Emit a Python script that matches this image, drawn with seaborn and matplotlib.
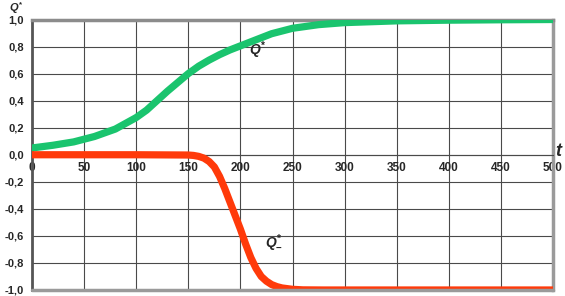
import matplotlib
matplotlib.use('Agg')
import matplotlib.pyplot as plt
import seaborn as sns

# Q* (green)
t_plus = [0, 20, 40, 60, 80, 100, 110, 120, 130, 140, 150, 160, 170, 180, 190, 200,
          215, 230, 250, 275, 300, 350, 400, 450, 500]
q_plus = [0.05, 0.07, 0.095, 0.135, 0.19, 0.275, 0.33, 0.40, 0.47, 0.535, 0.60, 0.655, 0.70, 0.74, 0.775, 0.805,
          0.85, 0.895, 0.935, 0.962, 0.977, 0.99, 0.995, 0.998, 1.0]

# Q*_ (red)
t_minus = [0, 100, 150, 155, 160, 165, 170, 175, 180, 185, 190, 195, 200, 205, 210, 215,
           220, 225, 230, 235, 240, 250, 260, 280, 500]
q_minus = [0.0, 0.0, -0.002, -0.005, -0.012, -0.025, -0.05, -0.09, -0.16, -0.25, -0.35, -0.45, -0.55, -0.66, -0.76, -0.84,
           -0.90, -0.935, -0.96, -0.975, -0.985, -0.995, -0.999, -1.0, -1.0]

x_ticks = [0, 50, 100, 150, 200, 250, 300, 350, 400, 450, 500]
y_ticks = [-1.0, -0.8, -0.6, -0.4, -0.2, 0.0, 0.2, 0.4, 0.6, 0.8, 1.0]
y_tick_labels = ['-1,0', '-0,8', '-0,6', '-0,4', '-0,2', '0,0', '0,2', '0,4', '0,6', '0,8', '1,0']

sns.set_style('white')
plt.rcParams['font.family'] = ['Liberation Sans', 'DejaVu Sans']
plt.rcParams['mathtext.fontset'] = 'custom'
plt.rcParams['mathtext.it'] = 'Liberation Sans:italic:bold'
plt.rcParams['mathtext.rm'] = 'Liberation Sans:bold'

fig = plt.figure(figsize=(5.65, 2.96), dpi=100)
ax = fig.add_axes([0.0566, 0.0203, 0.9222, 0.9138])

sns.lineplot(x=t_plus, y=q_plus, color='#1ac46e', linewidth=5.2, ax=ax, zorder=4)
sns.lineplot(x=t_minus, y=q_minus, color='#ff3a0a', linewidth=5.2, ax=ax, zorder=4)

ax.set_xlim(0, 500)
ax.set_ylim(-1, 1)
ax.set_xticks(x_ticks)
ax.set_yticks(y_ticks)
ax.set_yticklabels(y_tick_labels)
ax.grid(True, color='#4a4a4a', linewidth=0.8)
ax.set_axisbelow(True)

# x axis runs through zero
ax.spines['bottom'].set_position(('data', 0))
ax.spines['bottom'].set_color('#4a4a4a')
ax.spines['bottom'].set_linewidth(0.8)
ax.spines['left'].set_color('#555555')
ax.spines['left'].set_linewidth(2)
ax.spines['top'].set_color('#8c8c8c')
ax.spines['top'].set_linewidth(2.5)
ax.spines['right'].set_color('#9a9a9a')
ax.spines['right'].set_linewidth(2.5)
ax.axhline(-1, color='#9a9a9a', linewidth=2.5, clip_on=False, zorder=5)

ax.tick_params(axis='x', length=0, pad=5, labelsize=8.5)
ax.tick_params(axis='y', length=4, width=1, color='#555555', pad=2, labelsize=8)
for lab in ax.get_xticklabels() + ax.get_yticklabels():
    lab.set_fontweight('bold')

ax.set_xlabel('')
ax.set_ylabel('')

fig.text(0.016, 1.0, r'$Q^{*}$', fontsize=8, va='top')
fig.text(0.982, 0.472, r'$t$', fontsize=13)
ax.text(217, 0.775, r'$Q^{*}$', fontsize=10, ha='center', va='center')
ax.text(232, -0.65, r'$Q^{*}_{-}$', fontsize=10, ha='center', va='center')

plt.savefig('out.png', dpi=100)
